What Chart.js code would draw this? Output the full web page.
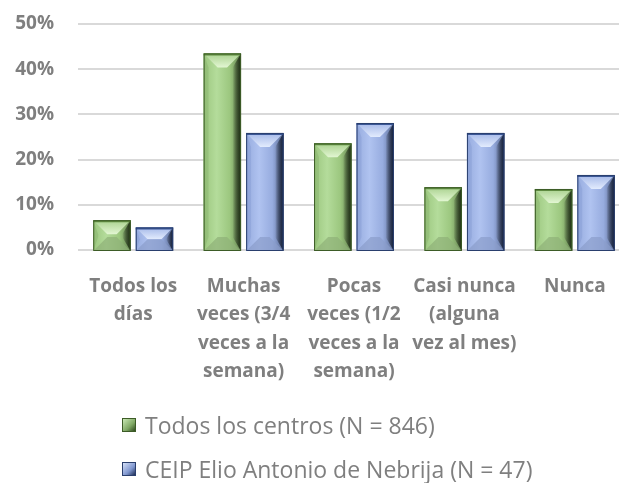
<!DOCTYPE html>
<html><head><meta charset="utf-8">
<script src="https://cdn.jsdelivr.net/npm/chart.js@4/dist/chart.umd.min.js"></script>
<style>
html,body{margin:0;padding:0;background:#fff;overflow:hidden;}
#wrap{position:relative;width:630px;height:483px;}
#c{position:absolute;left:0;top:0;}
.leg{position:absolute;left:122px;font-family:'Open Sans',sans-serif;font-size:23px;color:#7f7f7f;display:flex;align-items:center;white-space:nowrap;height:30px;}
.box{width:14px;height:14px;margin-right:9px;box-sizing:border-box;}
</style></head>
<body><div id="wrap"><canvas id="c" width="630" height="483"></canvas><div id="legend"></div></div>
<script>
const categories = [["Todos los","días"],["Muchas","veces (3/4","veces a la","semana)"],["Pocas","veces (1/2","veces a la","semana)"],["Casi nunca","(alguna","vez al mes)"],["Nunca"]];
const seriesNames = ["Todos los centros (N = 846)","CEIP Elio Antonio de Nebrija (N = 47)"];
const todosLosCentros = [6.6, 43.5, 23.6, 13.9, 13.5];
const ceipNebrija = [5.0, 25.9, 28.1, 25.9, 16.6];
const yTicks = [0, 10, 20, 30, 40, 50];

const palettes = [
  {face:'#a9d18e', faceL:'#9cc77f', faceM:'#b4dc9b', faceR:'#62804f', top:'#e2f6d2', topLine:'#5e8a40', bot:'#8fb177', left:'#7fa864', right:'#1f3114', edge:'#3d5c27', css:'linear-gradient(135deg,#c9e8b4,#7fa864 60%,#2f4a1f)'},
  {face:'#a4b8e8', faceL:'#97acdf', faceM:'#b0c3f0', faceR:'#56678f', top:'#e2ebfd', topLine:'#3b5796', bot:'#8a9ccb', left:'#7f96cf', right:'#15223f', edge:'#2a3f6e', css:'linear-gradient(135deg,#d6e1f8,#7f96cf 60%,#1f2f55)'}
];

const bevelPlugin = {
  id: 'bevel',
  afterDatasetsDraw(chart) {
    const ctx = chart.ctx;
    chart.data.datasets.forEach((ds, i) => {
      const meta = chart.getDatasetMeta(i);
      const p = palettes[i];
      meta.data.forEach(bar => {
        const {x, y, base, width} = bar.getProps(['x','y','base','width'], true);
        const l = x - width/2, r = x + width/2;
        const t = Math.min(y, base), b = Math.max(y, base) + 2;
        const h = b - t;
        const bv = Math.min(14, h/2, width/2);
        ctx.save();
        let g = ctx.createLinearGradient(l, 0, r, 0);
        g.addColorStop(0, p.faceL); g.addColorStop(0.35, p.faceM); g.addColorStop(0.7, p.faceL); g.addColorStop(1, p.faceR);
        ctx.fillStyle = g; ctx.fillRect(l, t, width, h);
        // top bevel
        let gt = ctx.createLinearGradient(0, t, 0, t + bv);
        gt.addColorStop(0, p.face); gt.addColorStop(1, p.top);
        ctx.fillStyle = gt;
        ctx.beginPath(); ctx.moveTo(l, t); ctx.lineTo(r, t); ctx.lineTo(r - bv, t + bv); ctx.lineTo(l + bv, t + bv); ctx.closePath(); ctx.fill();
        // bottom bevel
        ctx.fillStyle = p.bot; ctx.globalAlpha = 0.7;
        ctx.beginPath(); ctx.moveTo(l, b); ctx.lineTo(r, b); ctx.lineTo(r - bv, b - bv); ctx.lineTo(l + bv, b - bv); ctx.closePath(); ctx.fill();
        // left bevel
        ctx.globalAlpha = 0.35; ctx.fillStyle = p.left;
        ctx.beginPath(); ctx.moveTo(l, t); ctx.lineTo(l + bv*0.35, t + bv); ctx.lineTo(l + bv*0.35, b - bv); ctx.lineTo(l, b); ctx.closePath(); ctx.fill();
        // right bevel (dark)
        let gr = ctx.createLinearGradient(r - bv*0.6, 0, r, 0);
        gr.addColorStop(0, 'rgba(0,0,0,0)'); gr.addColorStop(1, p.right);
        ctx.globalAlpha = 1; ctx.fillStyle = gr;
        ctx.beginPath(); ctx.moveTo(r, t); ctx.lineTo(r - bv*0.6, t + bv); ctx.lineTo(r - bv*0.6, b - bv); ctx.lineTo(r, b); ctx.closePath(); ctx.fill();
        // top line
        ctx.strokeStyle = p.topLine; ctx.lineWidth = 2;
        ctx.beginPath(); ctx.moveTo(l, t + 1); ctx.lineTo(r, t + 1); ctx.stroke();
        ctx.strokeStyle = p.edge; ctx.lineWidth = 1;
        ctx.strokeRect(l + 0.5, t + 0.5, width - 1, h - 1);
        ctx.restore();
      });
    });
  }
};

const grey = '#7f7f7f';
new Chart(document.getElementById('c'), {
  type: 'bar',
  data: {
    labels: categories,
    datasets: [
      {label: seriesNames[0], data: todosLosCentros, backgroundColor: palettes[0].face, borderWidth: 0},
      {label: seriesNames[1], data: ceipNebrija, backgroundColor: palettes[1].face, borderWidth: 0}
    ]
  },
  options: {
    responsive: false,
    animation: false,
    devicePixelRatio: 1,
    categoryPercentage: 0.77,
    barPercentage: 0.88,
    layout: {padding: {top: 24, left: 13, right: 0, bottom: 97}},
    plugins: {legend: {display: false}, tooltip: {enabled: false}},
    scales: {
      x: {
        afterFit: s => { s.height = 136; },
        grid: {display: false, drawTicks: false},
        border: {display: false},
        ticks: {color: grey, padding: 22, maxRotation: 0, autoSkip: false,
          font: {family: "'Open Sans'", weight: 'bold', size: 19, lineHeight: 1.5}}
      },
      y: {
        min: yTicks[0], max: yTicks[yTicks.length-1],
        afterBuildTicks: s => { s.ticks = yTicks.map(v => ({value: v})); },
        afterFit: s => { s.width = 65; s.paddingTop = 0; s.paddingBottom = 0; },
        grid: {color: '#d9d9d9', lineWidth: 2, drawTicks: false},
        border: {display: false},
        ticks: {color: grey, padding: 24, callback: v => v + '%',
          font: {family: "'Open Sans'", weight: 'bold', size: 19}}
      }
    }
  },
  plugins: [bevelPlugin]
});

const legend = document.getElementById('legend');
const legendTops = [410, 454];
seriesNames.forEach((name, i) => {
  const d = document.createElement('div');
  d.className = 'leg';
  d.style.top = legendTops[i] + 'px';
  const bx = document.createElement('span');
  bx.className = 'box';
  bx.style.background = palettes[i].css;
  bx.style.border = '1px solid ' + palettes[i].edge;
  const tx = document.createElement('span');
  tx.textContent = name;
  d.appendChild(bx); d.appendChild(tx);
  legend.appendChild(d);
});
</script>
</body></html>
